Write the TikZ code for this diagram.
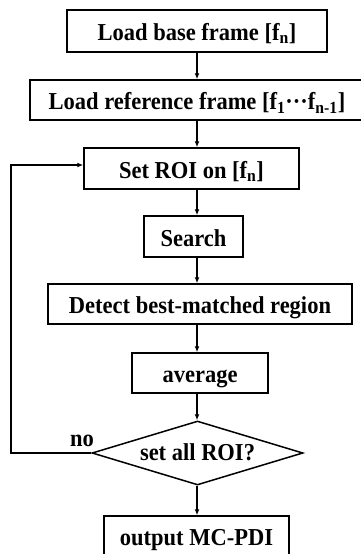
\documentclass[tikz,border=0pt]{standalone}
\usepackage{fontspec}
\setmainfont{Liberation Serif}
\usetikzlibrary{shapes.geometric,arrows.meta}
\newcommand{\stxt}[1]{\scalebox{1}[1.08]{#1}}
\begin{document}
\begin{tikzpicture}[x=1pt,y=-1pt,
  box/.style={draw,line width=1.5pt,inner sep=0pt,text height=19pt,text depth=0pt,font=\fontsize{22.5}{24}\selectfont\bfseries},
  arr/.style={line width=1.5pt,-{Latex[length=6pt,width=5pt]}}]
\useasboundingbox (0,0) rectangle (360,554);
\node[box,minimum width=260,minimum height=42] (b1) at (197,31) {\stxt{Load base frame [f\textsubscript{n}]}};
\node[box,minimum width=334,minimum height=40] (b2) at (197,100) {\stxt{Load reference frame [f\textsubscript{1}···f\textsubscript{n-1}]}};
\node[box,minimum width=215,minimum height=41] (b3) at (191.5,168.5) {\stxt{Set ROI on [f\textsubscript{n}]}};
\node[box,minimum width=99,minimum height=41] (b4) at (193.5,236.5) {\stxt{Search}};
\node[box,minimum width=304,minimum height=40] (b5) at (200,304) {\stxt{Detect best-matched region}};
\node[box,minimum width=136,minimum height=40] (b6) at (200,373) {\stxt{average}};
\node[box,diamond,aspect=3.3,text height=17pt,text depth=3pt,minimum width=211,minimum height=64] (d) at (197.5,453) {\stxt{set all ROI?}};
\node[box,minimum width=185,minimum height=40] (b7) at (196.5,536) {\stxt{output MC-PDI}};
\coordinate (c1) at (11,453);
\coordinate (c2) at (11,165);
\draw[arr] (b1.south -| 197,0) -- (b2.north -| 197,0);
\draw[arr] (b2.south -| 197,0) -- (b3.north -| 197,0);
\draw[arr] (b3.south -| 197,0) -- (b4.north -| 197,0);
\draw[arr] (b4.south -| 197,0) -- (b5.north -| 197,0);
\draw[arr] (b5.south -| 197,0) -- (b6.north -| 197,0);
\draw[arr] (b6.south -| 197,0) -- (d.north -| 197,0);
\draw[arr] (d.south -| 197,0) -- (b7.north -| 197,0);
\draw[arr] (d.west) -- (c1) -- (c2) -- (c2 -| b3.west);
\node[font=\fontsize{22.5}{24}\selectfont\bfseries,anchor=base,inner sep=0pt] (no) at (82,446.5) {\stxt{no}};
\end{tikzpicture}
\end{document}
